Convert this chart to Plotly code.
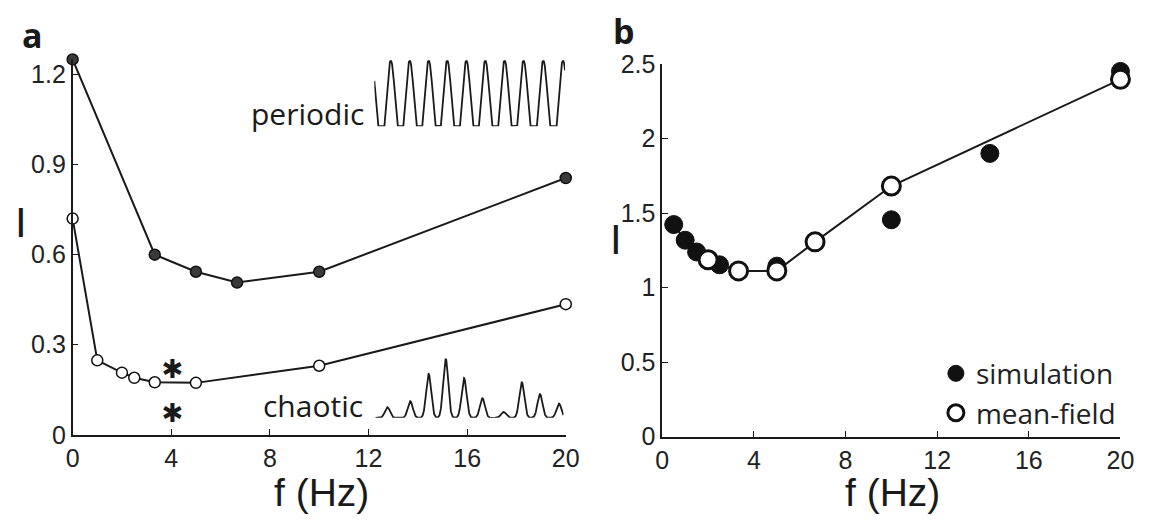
import numpy as np
import plotly.graph_objects as go

# ---------------- data ----------------
# panel a
a_per_f = [0, 3.33, 5, 6.67, 10, 20]
a_per_I = [1.25, 0.60, 0.543, 0.507, 0.543, 0.855]
a_cha_f = [0, 1, 2, 2.5, 3.33, 5, 10, 20]
a_cha_I = [0.72, 0.248, 0.207, 0.19, 0.175, 0.173, 0.23, 0.435]
star_f = [4.05, 4.05]
star_I = [0.21, 0.063]
a_xticks = [0, 4, 8, 12, 16, 20]
a_yticks = [0, 0.3, 0.6, 0.9, 1.2]
a_yticklabels = ["0", "0.3", "0.6", "0.9", "1.2"]

# panel b
b_sim_f = [0.5, 1, 1.5, 2.5, 5, 10, 14.3, 20]
b_sim_I = [1.423, 1.318, 1.239, 1.153, 1.144, 1.455, 1.90, 2.45]
b_mfline_f = [0.5, 1, 1.5, 2, 2.5, 3.33, 5, 6.67, 10, 20]
b_mfline_I = [1.423, 1.318, 1.239, 1.187, 1.153, 1.112, 1.112, 1.307, 1.681, 2.397]
b_mf_f = [2, 3.33, 5, 6.67, 10, 20]
b_mf_I = [1.187, 1.112, 1.112, 1.307, 1.681, 2.397]
b_xticks = [0, 4, 8, 12, 16, 20]
b_yticks = [0, 0.5, 1, 1.5, 2, 2.5]
b_yticklabels = ["0", "0.5", "1", "1.5", "2", "2.5"]

# inset traces (schematic), read as peak times / heights
per_peaks = [-0.16, 0.86, 1.85, 2.84, 3.81, 4.81, 5.80, 6.81, 7.80, 8.83, 9.86]
per_tmax = 9.97
cha_peaks = [0.63, 1.83, 2.79, 3.68, 4.64, 5.60, 6.71, 7.66, 8.61, 9.60]
cha_heights = [0.18, 0.28, 0.74, 1.0, 0.67, 0.33, 0.10, 0.60, 0.40, 0.24]
cha_tmax = 9.84

# ---------------- layout helpers ----------------
W, H = 1151, 527
OFF = 8  # page body margin offset
def fx(p):
    return (p - OFF) / W
def fy(p):
    return 1 - (p - OFF) / H

INK = "#1a1a1a"
TICKFONT = dict(family="Liberation Sans, Arial, sans-serif", size=25, color="#222")
HUM = "Open Sans, Noto Sans, sans-serif"

# build inset curves from the peak lists
t_per = np.linspace(0, per_tmax, 1500)
pk = np.array(per_peaks)
dmin = np.min(np.abs(t_per[:, None] - pk[None, :]), axis=1)
y_per = np.maximum(np.cos(2 * np.pi * dmin), -0.5)

t_cha = np.linspace(0, cha_tmax, 1500)
y_cha = np.zeros_like(t_cha)
for p, h in zip(cha_peaks, cha_heights):
    y_cha += h * np.exp(-0.5 * ((t_cha - p) / 0.13) ** 2)

fig = go.Figure()

# panel a
fig.add_trace(go.Scatter(x=a_per_f, y=a_per_I, mode="lines+markers", xaxis="x", yaxis="y",
                         line=dict(color=INK, width=2),
                         marker=dict(size=11, color="#3a3a3a", line=dict(color="#111", width=1.5)),
                         showlegend=False, cliponaxis=False))
fig.add_trace(go.Scatter(x=a_cha_f, y=a_cha_I, mode="lines+markers", xaxis="x", yaxis="y",
                         line=dict(color=INK, width=2),
                         marker=dict(size=11, color="white", line=dict(color="#111", width=1.5)),
                         showlegend=False, cliponaxis=False))
fig.add_trace(go.Scatter(x=star_f, y=star_I, mode="text", text=["✱", "✱"], xaxis="x", yaxis="y",
                         textfont=dict(family="DejaVu Sans", size=26, color=INK),
                         showlegend=False, cliponaxis=False))

# panel b
fig.add_trace(go.Scatter(x=b_mfline_f, y=b_mfline_I, mode="lines", xaxis="x2", yaxis="y2",
                         line=dict(color=INK, width=2), showlegend=False, cliponaxis=False))
fig.add_trace(go.Scatter(x=b_sim_f, y=b_sim_I, mode="markers", xaxis="x2", yaxis="y2",
                         name="simulation",
                         marker=dict(size=18, color="#111", line=dict(color="#111", width=1)),
                         cliponaxis=False))
fig.add_trace(go.Scatter(x=b_mf_f, y=b_mf_I, mode="markers", xaxis="x2", yaxis="y2",
                         name="mean-field",
                         marker=dict(size=18, color="white", line=dict(color="#111", width=3)),
                         cliponaxis=False))

# insets
fig.add_trace(go.Scatter(x=t_per, y=y_per, mode="lines", xaxis="x3", yaxis="y3",
                         line=dict(color=INK, width=1.8), showlegend=False, cliponaxis=False,
                         hoverinfo="skip"))
fig.add_trace(go.Scatter(x=t_cha, y=y_cha, mode="lines", xaxis="x4", yaxis="y4",
                         line=dict(color=INK, width=1.8), showlegend=False, cliponaxis=False,
                         hoverinfo="skip"))

axcommon = dict(showgrid=False, zeroline=False, showline=True, linecolor=INK, linewidth=1.6,
                ticks="inside", ticklen=6, tickwidth=1.4, tickcolor=INK, tickfont=TICKFONT,
                mirror=False)

legfont = dict(family=HUM, size=28, color="#222")
fig.update_layout(
    width=W, height=H,
    margin=dict(l=0, r=0, t=0, b=0),
    paper_bgcolor="white", plot_bgcolor="white",
    xaxis=dict(domain=[fx(66.7), fx(569)], range=[0, 20], tickvals=a_xticks,
               anchor="y", **axcommon),
    yaxis=dict(domain=[fy(444), fy(47.5)], range=[0, 1.25], tickvals=a_yticks,
               ticktext=a_yticklabels, anchor="x", **axcommon),
    xaxis2=dict(domain=[fx(667.3), fx(1134)], range=[0, 20], tickvals=b_xticks,
                anchor="y2", **axcommon),
    yaxis2=dict(domain=[fy(446), fy(52.3)], range=[0, 2.5], tickvals=b_yticks,
                ticktext=b_yticklabels, anchor="x2", **axcommon),
    xaxis3=dict(domain=[fx(374), fx(568.3)], range=[0, per_tmax], visible=False, anchor="y3"),
    yaxis3=dict(domain=[fy(118), fy(48.5)], range=[-0.5, 1.0], visible=False, anchor="x3"),
    xaxis4=dict(domain=[fx(375), fx(566.7)], range=[0, cha_tmax], visible=False, anchor="y4"),
    yaxis4=dict(domain=[fy(426), fy(363.3)], range=[0, 1.0], visible=False, anchor="x4"),
    legend=dict(x=fx(946), y=fy(400), xanchor="left", yanchor="middle", font=legfont,
                bgcolor="rgba(0,0,0,0)", borderwidth=0, tracegroupgap=0),
    showlegend=True,
)

ann = []
def label(text, x, y, size, family, bold=False, xanchor="center", yanchor="middle"):
    ann.append(dict(text=("<b>%s</b>" % text) if bold else text, x=fx(x), y=fy(y),
                    xref="paper", yref="paper", showarrow=False,
                    xanchor=xanchor, yanchor=yanchor,
                    font=dict(family=family, size=size, color="#1a1a1a")))

label("a", 26, 22, 34, "Open Sans, sans-serif", bold=True)
label("b", 628, 18, 34, "Open Sans, sans-serif", bold=True)
label("I", 13.7, 220, 42, "Liberation Sans, Arial, sans-serif")
label("I", 620, 238, 42, "Liberation Sans, Arial, sans-serif")
label("f (Hz)", 320, 505, 39, "Liberation Sans, Arial, sans-serif")
label("f (Hz)", 902, 505, 39, "Liberation Sans, Arial, sans-serif")
label("periodic", 366, 105, 30, HUM, xanchor="right")
label("chaotic", 364, 413, 30, HUM, xanchor="right")
fig.update_layout(annotations=ann)

fig.write_html("out.html")
